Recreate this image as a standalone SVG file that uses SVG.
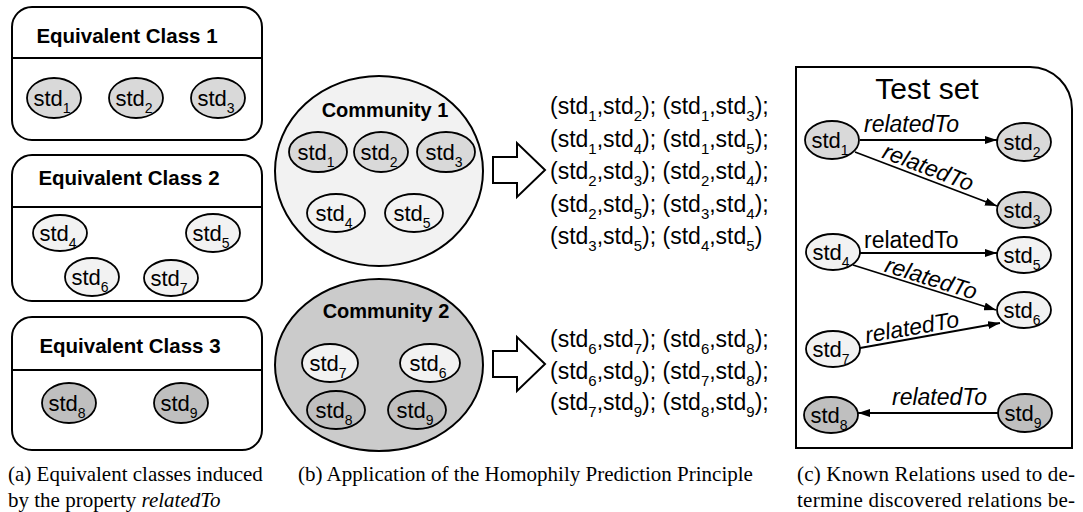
<svg xmlns="http://www.w3.org/2000/svg" width="1083" height="512" viewBox="0 0 1083 512">
  <style>
    text { font-family: "Liberation Sans", Arial, sans-serif; fill: #000; }
    .box { fill: #fff; stroke: #000; stroke-width: 2; }
    .div { stroke: #000; stroke-width: 2; }
    .title { font-size: 20.5px; font-weight: bold; text-anchor: middle; }
    .ctitle { font-size: 20px; font-weight: bold; text-anchor: middle; }
    .n { stroke: #000; stroke-width: 1.8; }
    .g1 { fill: #d9d9d9; }
    .g2 { fill: #f2f2f2; }
    .g3 { fill: #bfbfbf; }
    .std { font-size: 22px; text-anchor: middle; }
    .sb { font-size: 14px; }
    .pr { font-size: 23px; }
    .psb { font-size: 15px; }
    .comm1 { fill: #f2f2f2; stroke: #000; stroke-width: 2; }
    .comm2 { fill: #cbcbcb; stroke: #000; stroke-width: 2; }
    .barrow { fill: #fff; stroke: #000; stroke-width: 2; stroke-linejoin: miter; }
    .edge { stroke: #000; stroke-width: 1.8; fill: none; marker-end: url(#ah); }
    .rel { font-size: 23px; }
    .it { font-style: italic; }
    .cap { font-family: "Liberation Serif", "Times New Roman", serif; font-size: 21px; }
  </style>
  <defs>
    <marker id="ah" viewBox="0 0 12 8" refX="12" refY="4" markerWidth="12" markerHeight="8" markerUnits="userSpaceOnUse" orient="auto">
      <path d="M0,0 L12,4 L0,8 Z" fill="#000"/>
    </marker>
  </defs>

  <!-- (a) equivalent classes -->
  <g id="class1">
    <rect class="box" x="12" y="7" width="250" height="133" rx="20"/>
    <line class="div" x1="12" y1="58" x2="262" y2="58"/>
    <text class="title" x="127" y="43">Equivalent Class 1</text>
  </g>
  <g id="a-std1"><ellipse class="n g1" cx="54" cy="98" rx="27" ry="20"/><text class="std" x="52" y="106">std<tspan class="sb" dy="7">1</tspan></text></g>
  <g id="a-std2"><ellipse class="n g1" cx="136" cy="98" rx="27" ry="20"/><text class="std" x="134" y="106">std<tspan class="sb" dy="7">2</tspan></text></g>
  <g id="a-std3"><ellipse class="n g1" cx="218" cy="98" rx="27" ry="20"/><text class="std" x="216" y="106">std<tspan class="sb" dy="7">3</tspan></text></g>

  <g id="class2">
    <rect class="box" x="12" y="155" width="250" height="146" rx="20"/>
    <line class="div" x1="12" y1="207" x2="262" y2="207"/>
    <text class="title" x="129" y="185">Equivalent Class 2</text>
  </g>
  <g id="a-std4"><ellipse class="n g2" cx="60" cy="233" rx="27" ry="18"/><text class="std" x="58" y="241">std<tspan class="sb" dy="7">4</tspan></text></g>
  <g id="a-std5"><ellipse class="n g2" cx="213" cy="233" rx="27" ry="19"/><text class="std" x="211" y="241">std<tspan class="sb" dy="7">5</tspan></text></g>
  <g id="a-std6"><ellipse class="n g2" cx="92" cy="277" rx="27" ry="19"/><text class="std" x="90" y="285">std<tspan class="sb" dy="7">6</tspan></text></g>
  <g id="a-std7"><ellipse class="n g2" cx="171" cy="278" rx="27" ry="18"/><text class="std" x="169" y="286">std<tspan class="sb" dy="7">7</tspan></text></g>

  <g id="class3">
    <rect class="box" x="12" y="317" width="250" height="133" rx="20"/>
    <line class="div" x1="12" y1="370" x2="262" y2="370"/>
    <text class="title" x="130" y="353">Equivalent Class 3</text>
  </g>
  <g id="a-std8"><ellipse class="n g3" cx="69" cy="403" rx="27" ry="20"/><text class="std" x="67" y="411">std<tspan class="sb" dy="7">8</tspan></text></g>
  <g id="a-std9"><ellipse class="n g3" cx="181" cy="403" rx="27" ry="20"/><text class="std" x="179" y="411">std<tspan class="sb" dy="7">9</tspan></text></g>

  <!-- (b) communities -->
  <g id="community1">
    <ellipse class="comm1" cx="379" cy="171" rx="104" ry="95"/>
    <text class="ctitle" x="385" y="117">Community 1</text>
  </g>
  <g id="b-std1"><ellipse class="n g1" cx="318" cy="152" rx="29" ry="20"/><text class="std" x="316" y="160">std<tspan class="sb" dy="7">1</tspan></text></g>
  <g id="b-std2"><ellipse class="n g1" cx="381" cy="152" rx="27" ry="20"/><text class="std" x="379" y="160">std<tspan class="sb" dy="7">2</tspan></text></g>
  <g id="b-std3"><ellipse class="n g1" cx="446" cy="152" rx="29" ry="20"/><text class="std" x="444" y="160">std<tspan class="sb" dy="7">3</tspan></text></g>
  <g id="b-std4"><ellipse class="n g2" cx="336" cy="213" rx="29" ry="19"/><text class="std" x="334" y="221">std<tspan class="sb" dy="7">4</tspan></text></g>
  <g id="b-std5"><ellipse class="n g2" cx="414" cy="213" rx="29" ry="19"/><text class="std" x="412" y="221">std<tspan class="sb" dy="7">5</tspan></text></g>

  <g id="community2">
    <ellipse class="comm2" cx="379" cy="365" rx="104" ry="86"/>
    <text class="ctitle" x="386" y="318">Community 2</text>
  </g>
  <g id="b-std7"><ellipse class="n g2" cx="330" cy="363" rx="28" ry="19"/><text class="std" x="328" y="371">std<tspan class="sb" dy="7">7</tspan></text></g>
  <g id="b-std6"><ellipse class="n g2" cx="430" cy="363" rx="30" ry="19"/><text class="std" x="428" y="371">std<tspan class="sb" dy="7">6</tspan></text></g>
  <g id="b-std8"><ellipse class="n g3" cx="336" cy="410" rx="29" ry="19"/><text class="std" x="334" y="418">std<tspan class="sb" dy="7">8</tspan></text></g>
  <g id="b-std9"><ellipse class="n g3" cx="417" cy="410" rx="29" ry="19"/><text class="std" x="415" y="418">std<tspan class="sb" dy="7">9</tspan></text></g>

  <g id="arrow1"><polygon class="barrow" points="493,157 517,157 517,143 545,170 517,197 517,183 493,183"/></g>
  <g id="arrow2"><polygon class="barrow" points="493,351 517,351 517,337 545,364 517,391 517,377 493,377"/></g>

  <!-- predicted pairs -->
  <g id="pairs1" class="pr">
    <text x="550" y="114">(std<tspan class="psb" dy="7">1</tspan><tspan dy="-7">,std</tspan><tspan class="psb" dy="7">2</tspan><tspan dy="-7">); (std</tspan><tspan class="psb" dy="7">1</tspan><tspan dy="-7">,std</tspan><tspan class="psb" dy="7">3</tspan><tspan dy="-7">);</tspan></text>
    <text x="550" y="146.5">(std<tspan class="psb" dy="7">1</tspan><tspan dy="-7">,std</tspan><tspan class="psb" dy="7">4</tspan><tspan dy="-7">); (std</tspan><tspan class="psb" dy="7">1</tspan><tspan dy="-7">,std</tspan><tspan class="psb" dy="7">5</tspan><tspan dy="-7">);</tspan></text>
    <text x="550" y="179">(std<tspan class="psb" dy="7">2</tspan><tspan dy="-7">,std</tspan><tspan class="psb" dy="7">3</tspan><tspan dy="-7">); (std</tspan><tspan class="psb" dy="7">2</tspan><tspan dy="-7">,std</tspan><tspan class="psb" dy="7">4</tspan><tspan dy="-7">);</tspan></text>
    <text x="550" y="211.5">(std<tspan class="psb" dy="7">2</tspan><tspan dy="-7">,std</tspan><tspan class="psb" dy="7">5</tspan><tspan dy="-7">); (std</tspan><tspan class="psb" dy="7">3</tspan><tspan dy="-7">,std</tspan><tspan class="psb" dy="7">4</tspan><tspan dy="-7">);</tspan></text>
    <text x="550" y="244">(std<tspan class="psb" dy="7">3</tspan><tspan dy="-7">,std</tspan><tspan class="psb" dy="7">5</tspan><tspan dy="-7">); (std</tspan><tspan class="psb" dy="7">4</tspan><tspan dy="-7">,std</tspan><tspan class="psb" dy="7">5</tspan><tspan dy="-7">)</tspan></text>
  </g>
  <g id="pairs2" class="pr">
    <text x="550" y="347">(std<tspan class="psb" dy="7">6</tspan><tspan dy="-7">,std</tspan><tspan class="psb" dy="7">7</tspan><tspan dy="-7">); (std</tspan><tspan class="psb" dy="7">6</tspan><tspan dy="-7">,std</tspan><tspan class="psb" dy="7">8</tspan><tspan dy="-7">);</tspan></text>
    <text x="550" y="379">(std<tspan class="psb" dy="7">6</tspan><tspan dy="-7">,std</tspan><tspan class="psb" dy="7">9</tspan><tspan dy="-7">); (std</tspan><tspan class="psb" dy="7">7</tspan><tspan dy="-7">,std</tspan><tspan class="psb" dy="7">8</tspan><tspan dy="-7">);</tspan></text>
    <text x="550" y="410">(std<tspan class="psb" dy="7">7</tspan><tspan dy="-7">,std</tspan><tspan class="psb" dy="7">9</tspan><tspan dy="-7">); (std</tspan><tspan class="psb" dy="7">8</tspan><tspan dy="-7">,std</tspan><tspan class="psb" dy="7">9</tspan><tspan dy="-7">);</tspan></text>
  </g>

  <!-- (c) test set -->
  <g id="testset">
    <path class="box" d="M796,67 H1030 A42,42 0 0 1 1072,109 V448 H796 Z"/>
    <text x="927" y="99" font-size="30" text-anchor="middle">Test set</text>
  </g>

  <g id="connectors">
    <line class="edge" x1="860" y1="140" x2="997" y2="140"/>
    <line class="edge" x1="855" y1="152" x2="997" y2="206"/>
    <line class="edge" x1="860" y1="253" x2="997" y2="253"/>
    <line class="edge" x1="853" y1="265" x2="996" y2="310"/>
    <line class="edge" x1="860" y1="348" x2="1000" y2="323"/>
    <line class="edge" x1="998" y1="413" x2="858" y2="413"/>
    <text class="rel it" x="864" y="132">relatedTo</text>
    <text class="rel it" text-anchor="middle" transform="translate(928,168) rotate(21)" y="7">relatedTo</text>
    <text class="rel" x="864" y="248">relatedTo</text>
    <text class="rel it" text-anchor="middle" transform="translate(931,279) rotate(17.5)" y="7">relatedTo</text>
    <text class="rel it" text-anchor="middle" transform="translate(912,328) rotate(-10)" y="7">relatedTo</text>
    <text class="rel it" x="892" y="405">relatedTo</text>
  </g>

  <g id="c-std1"><ellipse class="n g1" cx="832" cy="140" rx="27" ry="19"/><text class="std" x="830" y="148">std<tspan class="sb" dy="7">1</tspan></text></g>
  <g id="c-std2"><ellipse class="n g1" cx="1024" cy="142" rx="27" ry="19"/><text class="std" x="1022" y="150">std<tspan class="sb" dy="7">2</tspan></text></g>
  <g id="c-std3"><ellipse class="n g1" cx="1024" cy="210" rx="27" ry="18"/><text class="std" x="1022" y="218">std<tspan class="sb" dy="7">3</tspan></text></g>
  <g id="c-std4"><ellipse class="n g2" cx="833" cy="252" rx="27" ry="18"/><text class="std" x="831" y="260">std<tspan class="sb" dy="7">4</tspan></text></g>
  <g id="c-std5"><ellipse class="n g2" cx="1024" cy="255" rx="27" ry="18"/><text class="std" x="1022" y="263">std<tspan class="sb" dy="7">5</tspan></text></g>
  <g id="c-std6"><ellipse class="n g2" cx="1024" cy="310" rx="27" ry="18"/><text class="std" x="1022" y="318">std<tspan class="sb" dy="7">6</tspan></text></g>
  <g id="c-std7"><ellipse class="n g2" cx="833" cy="349" rx="27" ry="18"/><text class="std" x="831" y="357">std<tspan class="sb" dy="7">7</tspan></text></g>
  <g id="c-std8"><ellipse class="n g3" cx="831" cy="415" rx="27" ry="18"/><text class="std" x="829" y="423">std<tspan class="sb" dy="7">8</tspan></text></g>
  <g id="c-std9"><ellipse class="n g3" cx="1025" cy="413" rx="27" ry="19"/><text class="std" x="1023" y="421">std<tspan class="sb" dy="7">9</tspan></text></g>

  <!-- captions -->
  <text class="cap" x="8" y="481">(a) Equivalent classes induced</text>
  <text class="cap" x="8" y="507">by the property <tspan class="it">relatedTo</tspan></text>
  <text class="cap" x="298" y="481">(b) Application of the Homophily Prediction Principle</text>
  <text class="cap" x="797" y="481" textLength="278" lengthAdjust="spacing">(c) Known Relations used to de-</text>
  <text class="cap" x="797" y="507" textLength="278" lengthAdjust="spacing">termine discovered relations be-</text>
</svg>
